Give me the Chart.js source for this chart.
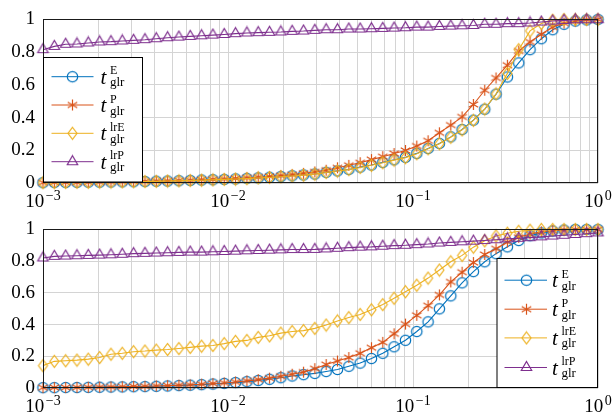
<!DOCTYPE html>
<html>
<head>
<meta charset="utf-8">
<script src="https://cdn.jsdelivr.net/npm/chart.js@4.4.1/dist/chart.umd.min.js"></script>
<style>
html, body { margin: 0; padding: 0; background: #fff; }
canvas { display: block; }
</style>
</head>
<body>
<canvas id="topChart" width="614" height="210"></canvas>
<canvas id="bottomChart" width="614" height="205"></canvas>
<script>
/**
 * Data
 */

var xValues = [
    0.001, 0.0011514, 0.0013257, 0.0015264, 0.0017575, 0.0020236, 0.00233, 0.0026827, 0.0030888, 0.0035565,
    0.0040949, 0.0047149, 0.0054287, 0.0062506, 0.0071969, 0.0082864, 0.009541, 0.010985, 0.012649, 0.014563,
    0.016768, 0.019307, 0.02223, 0.025595, 0.029471, 0.033932, 0.039069, 0.044984, 0.051795, 0.059636,
    0.068665, 0.07906, 0.09103, 0.10481, 0.12068, 0.13895, 0.15999, 0.18421, 0.2121, 0.24421,
    0.28118, 0.32375, 0.37276, 0.42919, 0.49417, 0.56899, 0.65513, 0.75431, 0.86851, 1
];

var topE = [
    0.002, 0.003, 0.003, 0.004, 0.005, 0.005, 0.006, 0.007, 0.008, 0.009,
    0.011, 0.012, 0.014, 0.016, 0.018, 0.020, 0.022, 0.025, 0.028, 0.031,
    0.035, 0.039, 0.044, 0.049, 0.055, 0.065, 0.074, 0.083, 0.097, 0.110,
    0.126, 0.142, 0.157, 0.181, 0.211, 0.242, 0.282, 0.327, 0.384, 0.451,
    0.543, 0.648, 0.734, 0.815, 0.882, 0.937, 0.970, 0.990, 0.997, 1.000
];
var topP = [
    0.002, 0.003, 0.004, 0.004, 0.005, 0.006, 0.007, 0.008, 0.009, 0.010,
    0.012, 0.013, 0.015, 0.017, 0.020, 0.022, 0.025, 0.028, 0.032, 0.036,
    0.040, 0.045, 0.051, 0.059, 0.068, 0.078, 0.093, 0.108, 0.124, 0.143,
    0.161, 0.180, 0.199, 0.226, 0.258, 0.307, 0.354, 0.404, 0.480, 0.567,
    0.642, 0.720, 0.807, 0.862, 0.909, 0.953, 0.977, 0.990, 0.997, 1.000
];
var topLrE = [
    0.002, 0.002, 0.003, 0.004, 0.004, 0.005, 0.006, 0.007, 0.008, 0.009,
    0.010, 0.012, 0.013, 0.015, 0.017, 0.019, 0.022, 0.024, 0.027, 0.031,
    0.034, 0.038, 0.043, 0.048, 0.054, 0.064, 0.073, 0.082, 0.095, 0.108,
    0.124, 0.140, 0.155, 0.179, 0.209, 0.240, 0.280, 0.325, 0.383, 0.452,
    0.545, 0.670, 0.815, 0.930, 0.975, 0.995, 1.000, 1.000, 1.000, 1.000
];
var topLrP = [
    0.815, 0.835, 0.848, 0.850, 0.856, 0.862, 0.864, 0.868, 0.872, 0.876,
    0.882, 0.888, 0.892, 0.896, 0.900, 0.904, 0.908, 0.913, 0.917, 0.919,
    0.921, 0.923, 0.927, 0.929, 0.933, 0.937, 0.937, 0.941, 0.941, 0.943,
    0.945, 0.947, 0.949, 0.953, 0.953, 0.957, 0.959, 0.961, 0.963, 0.970,
    0.970, 0.974, 0.974, 0.978, 0.984, 0.990, 0.994, 0.998, 0.998, 0.998
];

var bottomE = [
    0.002, 0.002, 0.003, 0.003, 0.004, 0.005, 0.006, 0.007, 0.008, 0.009,
    0.011, 0.013, 0.015, 0.018, 0.021, 0.025, 0.029, 0.034, 0.040, 0.047,
    0.055, 0.065, 0.076, 0.084, 0.092, 0.104, 0.117, 0.137, 0.157, 0.186,
    0.219, 0.260, 0.301, 0.356, 0.417, 0.499, 0.581, 0.663, 0.734, 0.796,
    0.847, 0.890, 0.930, 0.960, 0.978, 0.990, 0.996, 1.000, 1.000, 1.000
];
var bottomP = [
    0.002, 0.003, 0.003, 0.004, 0.005, 0.006, 0.007, 0.008, 0.010, 0.011,
    0.013, 0.015, 0.018, 0.020, 0.024, 0.028, 0.032, 0.038, 0.045, 0.053,
    0.062, 0.074, 0.087, 0.100, 0.122, 0.148, 0.170, 0.192, 0.219, 0.254,
    0.288, 0.342, 0.403, 0.458, 0.519, 0.587, 0.669, 0.730, 0.791, 0.842,
    0.878, 0.920, 0.950, 0.970, 0.985, 0.992, 0.997, 1.000, 1.000, 1.000
];
var bottomLrE = [
    0.141, 0.168, 0.172, 0.176, 0.182, 0.192, 0.213, 0.219, 0.229, 0.233,
    0.239, 0.243, 0.249, 0.256, 0.264, 0.268, 0.280, 0.294, 0.300, 0.319,
    0.329, 0.346, 0.356, 0.362, 0.376, 0.397, 0.423, 0.444, 0.464, 0.493,
    0.526, 0.566, 0.607, 0.648, 0.693, 0.744, 0.796, 0.836, 0.888, 0.928,
    0.959, 0.976, 0.988, 0.995, 1.000, 1.000, 1.000, 1.000, 1.000, 1.000
];
var bottomLrP = [
    0.820, 0.830, 0.832, 0.834, 0.836, 0.838, 0.840, 0.843, 0.847, 0.849,
    0.851, 0.853, 0.855, 0.857, 0.857, 0.859, 0.861, 0.863, 0.865, 0.867,
    0.869, 0.871, 0.873, 0.873, 0.874, 0.877, 0.881, 0.885, 0.888, 0.890,
    0.894, 0.898, 0.900, 0.904, 0.908, 0.914, 0.918, 0.922, 0.926, 0.930,
    0.935, 0.940, 0.944, 0.948, 0.953, 0.958, 0.963, 0.968, 0.973, 0.978
];

var seriesNames = ['E', 'P', 'lrE', 'lrP'];
var xTickValues = [0.001, 0.01, 0.1, 1];
var xTickExponents = ['\u22123', '\u22122', '\u22121', '0'];
var yTickStep = 0.2;

/**
 * Styles
 */

var seriesColors = ['#0072BD', '#D95319', '#EDB120', '#7E2F8E'];
var serif = '"Liberation Serif", "DejaVu Serif", serif';

var makeMarker = function(kind, color) {
    var c = document.createElement('canvas');
    c.width = 15;
    c.height = 15;
    var g = c.getContext('2d');
    g.strokeStyle = color;
    g.lineWidth = 1.2;
    g.beginPath();
    if (kind == 'circle') {
        g.arc(7.5, 7.5, 5.2, 0, Math.PI * 2);
    } else if (kind == 'asterisk') {
        for (var a = 0; a < 3; a++) {
            var ang = Math.PI / 2 + a * Math.PI / 3;
            g.moveTo(7.5 + 5.5 * Math.cos(ang), 7.5 - 5.5 * Math.sin(ang));
            g.lineTo(7.5 - 5.5 * Math.cos(ang), 7.5 + 5.5 * Math.sin(ang));
        }
    } else if (kind == 'diamond') {
        g.moveTo(7.5, 1.5);
        g.lineTo(12, 7.5);
        g.lineTo(7.5, 13.5);
        g.lineTo(3, 7.5);
        g.closePath();
    } else {
        g.moveTo(7.5, 1.5);
        g.lineTo(12.7, 10.5);
        g.lineTo(2.3, 10.5);
        g.closePath();
    }
    g.stroke();
    return c;
};

var markers = [
    makeMarker('circle', seriesColors[0]),
    makeMarker('asterisk', seriesColors[1]),
    makeMarker('diamond', seriesColors[2]),
    makeMarker('triangle', seriesColors[3])
];

var xGridValues = [];
for (var d = 0.001; d < 1; d *= 10) {
    for (var m = 1; m < 10; m++) {
        xGridValues.push(+(m * d).toPrecision(3));
    }
}
xGridValues.push(1);

/**
 * Drawing helpers (frame, x labels with exponents, legend)
 */

var drawExtras = function(chart, lg) {
    var ctx = chart.ctx;
    var area = chart.chartArea;
    var xs = chart.scales.x;

    ctx.save();
    ctx.strokeStyle = '#1a1a1a';
    ctx.lineWidth = 1;
    ctx.strokeRect(Math.round(area.left) + 0.5, Math.round(area.top) + 0.5,
        Math.round(area.right - area.left) - 1, Math.round(area.bottom - area.top) - 1);

    ctx.fillStyle = '#000';
    ctx.textBaseline = 'alphabetic';
    for (var i = 0; i < xTickValues.length; i++) {
        ctx.font = '19px ' + serif;
        var w1 = ctx.measureText('10').width;
        ctx.font = '14px ' + serif;
        var w2 = ctx.measureText(xTickExponents[i]).width;
        var x0 = xs.getPixelForValue(xTickValues[i]) - (w1 + 1.5 + w2) / 2;
        ctx.font = '19px ' + serif;
        ctx.fillText('10', x0, area.bottom + 23.5);
        ctx.font = '14px ' + serif;
        ctx.fillText(xTickExponents[i], x0 + w1 + 1.5, area.bottom + 17);
    }

    ctx.fillStyle = '#fff';
    ctx.fillRect(lg.x, lg.y, lg.w, lg.h);
    ctx.strokeStyle = '#000';
    ctx.strokeRect(lg.x, lg.y, lg.w, lg.h);
    for (var k = 0; k < seriesNames.length; k++) {
        var cy = lg.y + lg.rows[k];
        ctx.strokeStyle = seriesColors[k];
        ctx.beginPath();
        ctx.moveTo(lg.x + lg.lineFrom, cy);
        ctx.lineTo(lg.x + lg.lineTo, cy);
        ctx.stroke();
        ctx.drawImage(markers[k], lg.x + lg.markAt - 7.5, cy - 7.5);

        var tx = lg.x + lg.textAt;
        ctx.fillStyle = '#000';
        ctx.font = 'italic 21px ' + serif;
        ctx.fillText('t', tx, cy + 7);
        ctx.font = '12px ' + serif;
        ctx.fillText(seriesNames[k], tx + 9.5, cy - 2.5);
        ctx.font = '13px ' + serif;
        ctx.fillText('glr', tx + 9.5, cy + 9.5);
    }
    ctx.restore();
};

var makeDataset = function(values, k) {
    var points = [];
    for (var i = 0; i < xValues.length; i++) {
        points.push({ x: xValues[i], y: values[i] });
    }
    return {
        label: seriesNames[k],
        data: points,
        borderColor: seriesColors[k],
        borderWidth: 1.1,
        pointStyle: markers[k],
        pointRadius: 6,
        showLine: true,
        fill: false,
        tension: 0,
        clip: false,
        order: 3 - k
    };
};

var makeChart = function(canvasId, series, padTop, axisHeight, lg) {
    var ctx = document.getElementById(canvasId).getContext('2d');
    return new Chart(ctx, {
        type: 'line',
        data: {
            datasets: [
                makeDataset(series[0], 0),
                makeDataset(series[1], 1),
                makeDataset(series[2], 2),
                makeDataset(series[3], 3)
            ]
        },
        options: {
            responsive: false,
            animation: false,
            devicePixelRatio: 1,
            layout: { padding: { top: padTop, right: 16, left: 0, bottom: 0 } },
            plugins: { legend: { display: false }, tooltip: { enabled: false } },
            scales: {
                x: {
                    type: 'logarithmic',
                    min: 0.001,
                    max: 1,
                    border: { display: false },
                    grid: { color: '#d4d4d4', lineWidth: 1, drawTicks: false },
                    ticks: { autoSkip: false, maxRotation: 0, callback: function() { return ''; } },
                    afterBuildTicks: function(s) {
                        s.ticks = xGridValues.map(function(v) { return { value: v }; });
                    },
                    afterFit: function(s) { s.height = axisHeight; }
                },
                y: {
                    min: 0,
                    max: 1,
                    border: { display: false },
                    grid: { color: '#d4d4d4', lineWidth: 1, drawTicks: false },
                    ticks: {
                        stepSize: yTickStep,
                        color: '#000',
                        padding: 8,
                        font: { family: serif, size: 19 },
                        callback: function(v) { return String(Math.round(v * 10) / 10); }
                    },
                    afterFit: function(s) { s.width = 43; }
                }
            }
        },
        plugins: [{
            id: 'extras',
            afterDatasetsDraw: function(chart) { drawExtras(chart, lg); }
        }]
    });
};

makeChart('topChart', [topE, topP, topLrE, topLrP], 19, 27, {
    x: 43.5, y: 57.5, w: 99, h: 124.5,
    rows: [19.2, 47.5, 75.8, 104.2],
    lineFrom: 8, lineTo: 50, markAt: 29, textAt: 57
});

makeChart('bottomChart', [bottomE, bottomP, bottomLrE, bottomLrP], 15, 27, {
    x: 497, y: 48.5, w: 100.5, h: 129,
    rows: [21.7, 50.7, 79.4, 109],
    lineFrom: 7.5, lineTo: 50, markAt: 29.5, textAt: 55
});
</script>
</body>
</html>
